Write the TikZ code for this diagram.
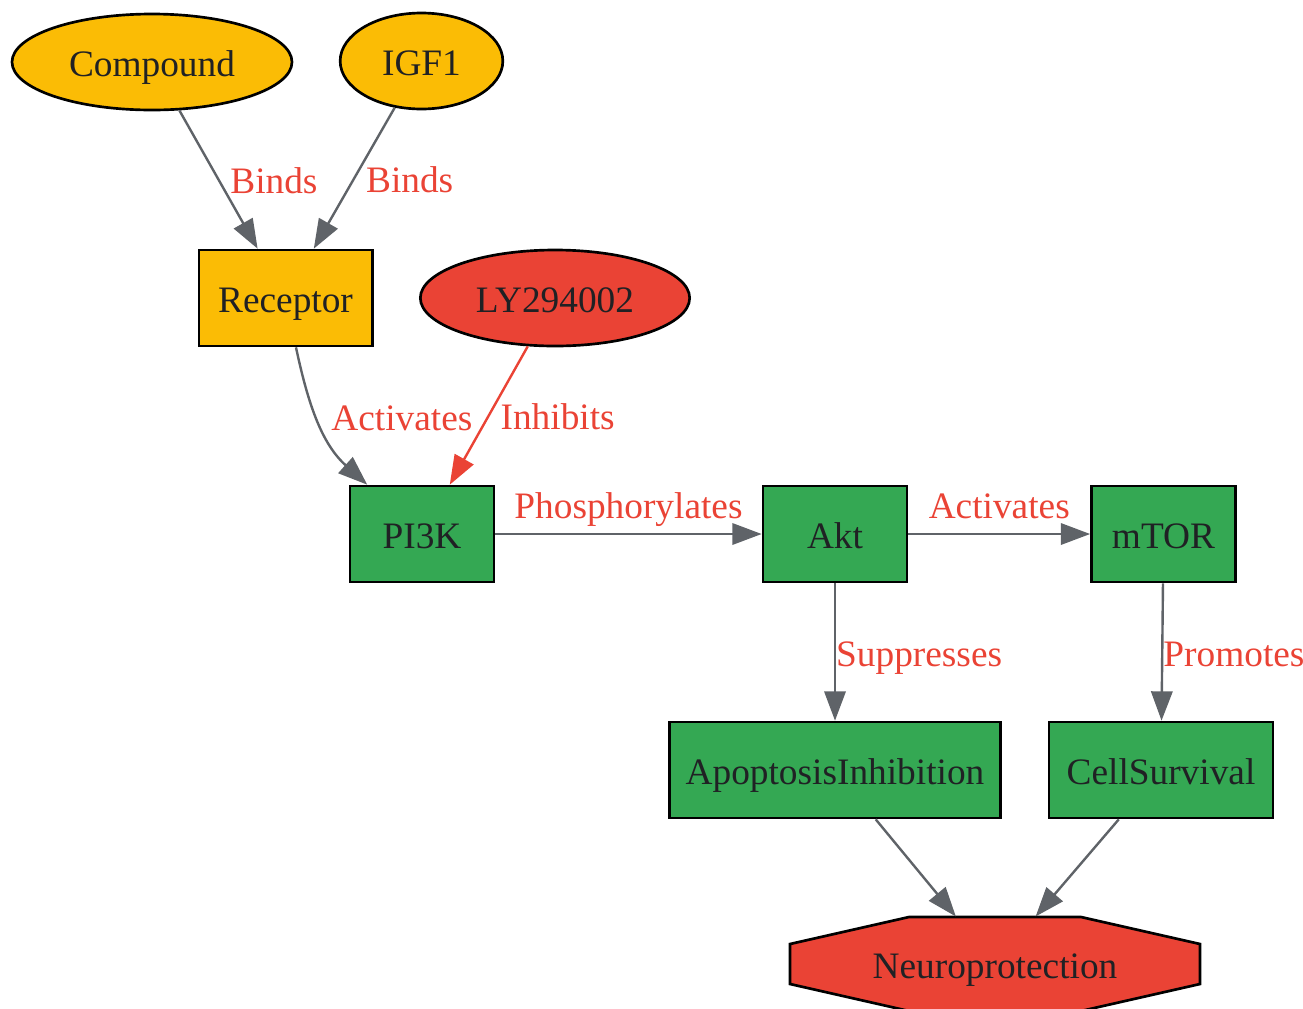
\documentclass[tikz,border=0pt]{standalone}
\usepackage{fontspec}
\setmainfont{Liberation Serif}
\usetikzlibrary{arrows.meta,shapes.geometric}
\definecolor{gyellow}{HTML}{FBBC05}
\definecolor{ggreen}{HTML}{34A853}
\definecolor{gred}{HTML}{EA4335}
\definecolor{ggray}{HTML}{5F6368}
\definecolor{gtext}{HTML}{202124}
\begin{document}
\begin{tikzpicture}[x=0.375pt,y=-0.375pt,
    every node/.style={font=\fontsize{14pt}{17pt}\selectfont,text=gtext,text height=11pt,text depth=0.5pt},
    oval/.style={ellipse,draw=black,line width=1pt,minimum height=36pt,inner sep=0pt},
    box/.style={rectangle,draw=black,line width=1pt,minimum height=36pt,inner sep=0pt},
    edge/.style={draw=ggray,line width=0.9pt,-{Triangle[length=11pt,width=8pt]}},
    lab/.style={text=gred,inner sep=0pt}]
      \useasboundingbox (0,0) rectangle (1303,1008);
      \draw[fill=gred,line width=1pt]
        (909,917) -- (1081,917) -- (1200,944) -- (1200,984) --
        (1081,1011) -- (909,1011) -- (790,984) -- (790,944) -- cycle;
      \draw
        (152,62) node[oval,fill=gyellow,minimum width=105pt] (compound){Compound}
        (421.5,61) node[oval,fill=gyellow,minimum width=61pt] (igf1){IGF1}
        (285.5,298) node[box,fill=gyellow,minimum width=65pt] (receptor){Receptor}
        (555,298) node[oval,fill=gred,minimum width=101pt] (ly){LY294002}
        (422,534) node[box,fill=ggreen,minimum width=54pt] (pi3k){PI3K}
        (835,534) node[box,fill=ggreen,minimum width=54pt] (akt){Akt}
        (1163.5,534) node[box,fill=ggreen,minimum width=54pt] (mtor){mTOR}
        (835,770) node[box,fill=ggreen,minimum width=124pt] (apoptosis){ApoptosisInhibition}
        (1161,770) node[box,fill=ggreen,minimum width=84pt] (survival){CellSurvival}
        (995,964) node[minimum width=154pt,minimum height=35.25pt,inner sep=0pt] (neuro){Neuroprotection};
      \begin{scope}[every path/.style={edge}]
        \draw (compound) to node[lab,anchor=west,xshift=4pt]{Binds} (receptor);
        \draw (igf1) to node[lab,anchor=west,xshift=4pt]{Binds} (receptor);
        \draw (receptor) to[out=-78,in=138] node[lab,anchor=west,xshift=4pt,yshift=2.5pt]{Activates} (pi3k);
        \draw[draw=gred] (ly) to node[lab,anchor=west,xshift=4pt]{Inhibits} (pi3k);
        \draw (pi3k) to node[lab,anchor=base,yshift=6pt]{Phosphorylates} (akt);
        \draw (akt) to node[lab,anchor=base,yshift=6pt]{Activates} (mtor);
        \draw (akt) to node[lab,anchor=west]{Suppresses} (apoptosis);
        \draw (mtor) to node[lab,anchor=west]{Promotes} (survival);
        \draw (apoptosis) to (neuro);
        \draw (survival) to (neuro);
      \end{scope}
    \end{tikzpicture}
\end{document}
